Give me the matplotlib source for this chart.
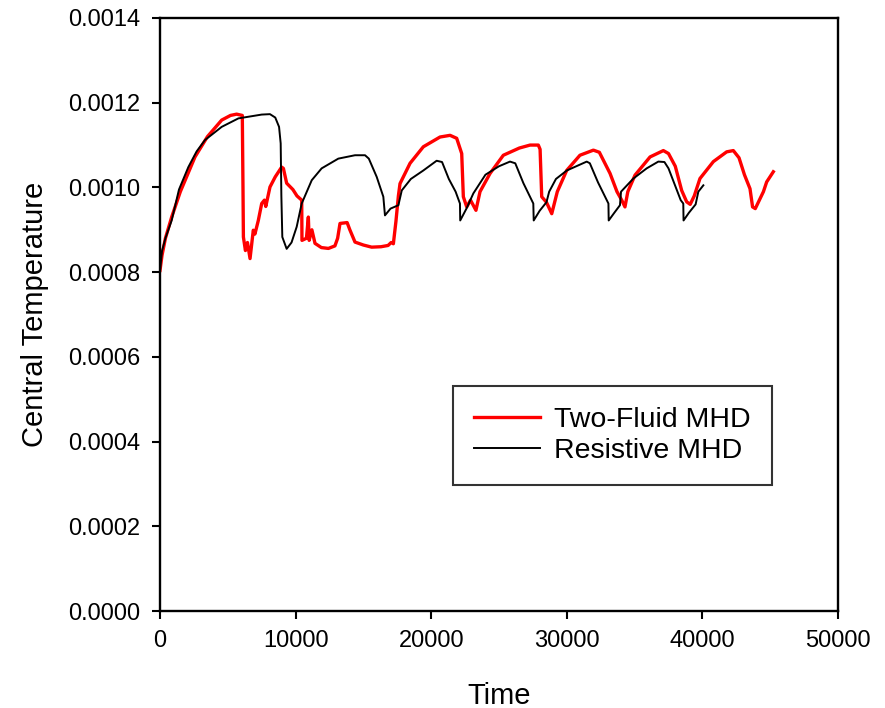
import matplotlib.pyplot as plt
from matplotlib.ticker import FormatStrFormatter

plt.rcParams['font.family'] = ['Liberation Sans', 'DejaVu Sans']

# Two-Fluid MHD (red)
tf_time = [0, 150, 400, 860, 1500, 2580, 3500, 4550, 5200, 5650, 6070, 6120,
           6150, 6300, 6450, 6640, 6880, 7000, 7250, 7500, 7700, 7800, 8110,
           8500, 8970, 9100, 9340, 9800, 10100, 10450, 10470, 10800, 10940,
           11000, 11200, 11430, 11900, 12420, 12900, 13100, 13275, 13800,
           14000, 14380, 15000, 15610, 16300, 16820, 17050, 17210, 17400,
           17580, 17700, 18440, 19420, 20650, 21390, 21880, 22250, 22370,
           22620, 22900, 23300, 23600, 24340, 25320, 26500, 27290, 27900,
           28030, 28150, 28500, 28890, 29300, 29990, 30970, 31960, 32400,
           33190, 33700, 34050, 34290, 34500, 35030, 36140, 37120, 37500,
           38000, 38470, 38840, 39100, 39400, 39820, 40810, 41790, 42280,
           42700, 43100, 43510, 43700, 43900, 44200, 44500, 44740, 45230]
tf_temp = [0.000804, 0.00084, 0.00088, 0.00093, 0.00099, 0.001072, 0.00112,
           0.001159, 0.00117, 0.001173, 0.00117, 0.001, 0.000883, 0.000851,
           0.00087, 0.000832, 0.000899, 0.00089, 0.000922, 0.000962, 0.00097,
           0.000955, 0.001001, 0.001025, 0.001048, 0.001045, 0.00101, 0.000995,
           0.00098, 0.00097, 0.000875, 0.00088, 0.00093, 0.000875, 0.0009,
           0.000868, 0.000858, 0.000856, 0.000862, 0.00088, 0.000915, 0.000917,
           0.0009, 0.000871, 0.000864, 0.000859, 0.00086, 0.000863, 0.00087,
           0.000867, 0.00092, 0.00098, 0.001009, 0.001057, 0.001096, 0.001119,
           0.001123, 0.001116, 0.00108, 0.000978, 0.000954, 0.00097, 0.000946,
           0.00099, 0.001033, 0.001076, 0.001093, 0.0011, 0.0011, 0.00109,
           0.000978, 0.000965, 0.000938, 0.00099, 0.00104, 0.001076, 0.001088,
           0.001083, 0.001033, 0.00099, 0.00097, 0.000954, 0.00099, 0.001029,
           0.001072, 0.001087, 0.00108, 0.00105, 0.000993, 0.000966, 0.00096,
           0.00098, 0.001021, 0.001061, 0.001084, 0.001087, 0.00107, 0.00103,
           0.000997, 0.000954, 0.00095, 0.00097, 0.00099, 0.001013, 0.001037]

# Resistive MHD (black)
rm_time = [0, 150, 400, 860, 1400, 2090, 2700, 3320, 4550, 5780, 7500, 8110,
           8500, 8780, 8900, 8950, 9020, 9340, 9700, 10080, 10450, 11190,
           11920, 13150, 14380, 15120, 15400, 15980, 16470, 16590, 17000,
           17580, 17830, 18500, 19420, 20400, 20800, 21300, 21800, 22120,
           22140, 22600, 23110, 24000, 25000, 25810, 26200, 26800, 27530,
           27560, 28000, 28500, 28700, 29200, 30000, 31470, 31700, 32300,
           33070, 33090, 33500, 33920, 34000, 34910, 35890, 36750, 37200,
           37500, 37980, 38400, 38590, 38610, 39000, 39500, 39700, 40070]
rm_temp = [0.000804, 0.00085, 0.00088, 0.000922, 0.000995, 0.001048, 0.001085,
           0.001112, 0.001143, 0.001163, 0.001172, 0.001173, 0.001165,
           0.001143, 0.001104, 0.00098, 0.000883, 0.000855, 0.00087, 0.000907,
           0.000962, 0.001017, 0.001045, 0.001068, 0.001076, 0.001076,
           0.001068, 0.001025, 0.000978, 0.000934, 0.00095, 0.000958, 0.000993,
           0.00102, 0.00104, 0.001063, 0.00106, 0.00102, 0.00099, 0.000962,
           0.000922, 0.00095, 0.000986, 0.00103, 0.00105, 0.001061, 0.001057,
           0.00101, 0.000962, 0.000922, 0.000945, 0.000965, 0.00099, 0.00102,
           0.00104, 0.001061, 0.001057, 0.001012, 0.000962, 0.000922, 0.00094,
           0.000958, 0.00099, 0.001021, 0.001045, 0.001061, 0.00106, 0.001045,
           0.001005, 0.00097, 0.000962, 0.000922, 0.00094, 0.00096, 0.00099,
           0.001005]

fig = plt.figure(figsize=(8.85, 7.08), dpi=100)
ax = fig.add_axes([160 / 885, 1 - 611 / 708, 678 / 885, 593 / 708])

ax.plot(tf_time, tf_temp, color='#ff0000', lw=2.4, label='Two-Fluid MHD')
ax.plot(rm_time, rm_temp, color='black', lw=1.4, label='Resistive MHD')

ax.set_xlim(0, 50000)
ax.set_ylim(0, 0.0014)
ax.set_xticks([0, 10000, 20000, 30000, 40000, 50000])
ax.set_yticks([0, 0.0002, 0.0004, 0.0006, 0.0008, 0.001, 0.0012, 0.0014])
ax.yaxis.set_major_formatter(FormatStrFormatter('%.4f'))
ax.tick_params(direction='out', length=6, width=1.5, labelsize=17, pad=8)
for s in ax.spines.values():
    s.set_linewidth(1.7)

ax.set_xlabel('Time', fontsize=21, labelpad=21)
ax.set_ylabel('Central Temperature', fontsize=21, labelpad=14)

leg = ax.legend(loc='upper left', bbox_to_anchor=((453 - 160) / 678, (611 - 386) / 593),
                borderaxespad=0, fontsize=20.5, frameon=True, fancybox=False,
                edgecolor='black', handlelength=2.3, borderpad=0.75,
                labelspacing=0.15, handletextpad=0.5)
leg.get_frame().set_linewidth(1.5)

plt.savefig('out.png', dpi=100)
